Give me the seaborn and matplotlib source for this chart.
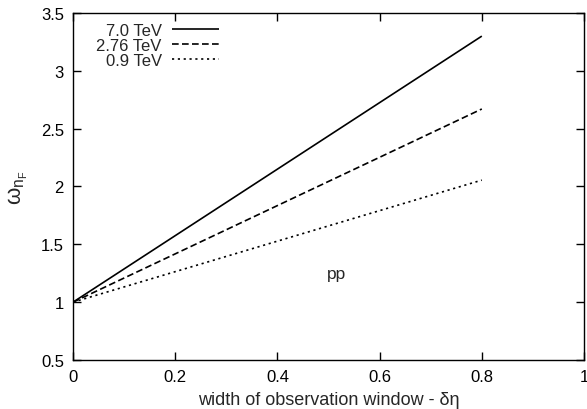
import matplotlib
matplotlib.use("Agg")
from matplotlib import pyplot as plt
import seaborn as sns
import pandas as pd

# === Data ===
window = [0.0, 0.8]
omega_7000 = [1.0, 3.30]
omega_2760 = [1.0, 2.67]
omega_900 = [1.0, 2.055]
labels = ["7.0 TeV", "2.76 TeV", "0.9 TeV"]

sns.set_style("ticks")
plt.rcParams['font.family'] = ['Liberation Sans', 'DejaVu Sans']
plt.rcParams['mathtext.default'] = 'regular'

fig = plt.figure(figsize=(5.87, 4.10), dpi=100)
ax = fig.add_axes([0.1244, 0.1195, 0.8705, 0.8464])

styles = [(0, ()), (0, (4, 2)), (0, (1.3, 2.2))]
for ys, lab, ls in zip([omega_7000, omega_2760, omega_900], labels, styles):
    df = pd.DataFrame({"x": window, "y": ys})
    sns.lineplot(data=df, x="x", y="y", ax=ax, color="black", linewidth=1.2,
                 linestyle=ls, label=lab)

ax.set_xlim(0, 1)
ax.set_ylim(0.5, 3.5)
ax.set_xticks([0, 0.2, 0.4, 0.6, 0.8, 1])
ax.set_xticklabels(["0", "0.2", "0.4", "0.6", "0.8", "1"])
ax.set_yticks([0.5, 1, 1.5, 2, 2.5, 3, 3.5])
ax.set_yticklabels(["0.5", "1", "1.5", "2", "2.5", "3", "3.5"])
ax.tick_params(direction="in", length=6, width=1, top=True, right=True,
               labelsize=12, pad=6.5, colors="black")
for s in ax.spines.values():
    s.set_visible(True)
    s.set_linewidth(1)
    s.set_color("black")

ax.set_xlabel("width of observation window - δη", fontsize=13, labelpad=5)
ax.set_ylabel(r"$\omega_{n_F}$", fontsize=16, labelpad=8)

ax.text(0.515, 1.25, "pp", fontsize=12.5, ha="center", va="center")

leg = ax.legend(loc="upper left", bbox_to_anchor=(0.026, 1.0), frameon=False,
                markerfirst=False, fontsize=12, handlelength=2.85,
                labelspacing=0.0, handletextpad=0.6, borderaxespad=0.2)

fig.savefig("out.png", dpi=100)
